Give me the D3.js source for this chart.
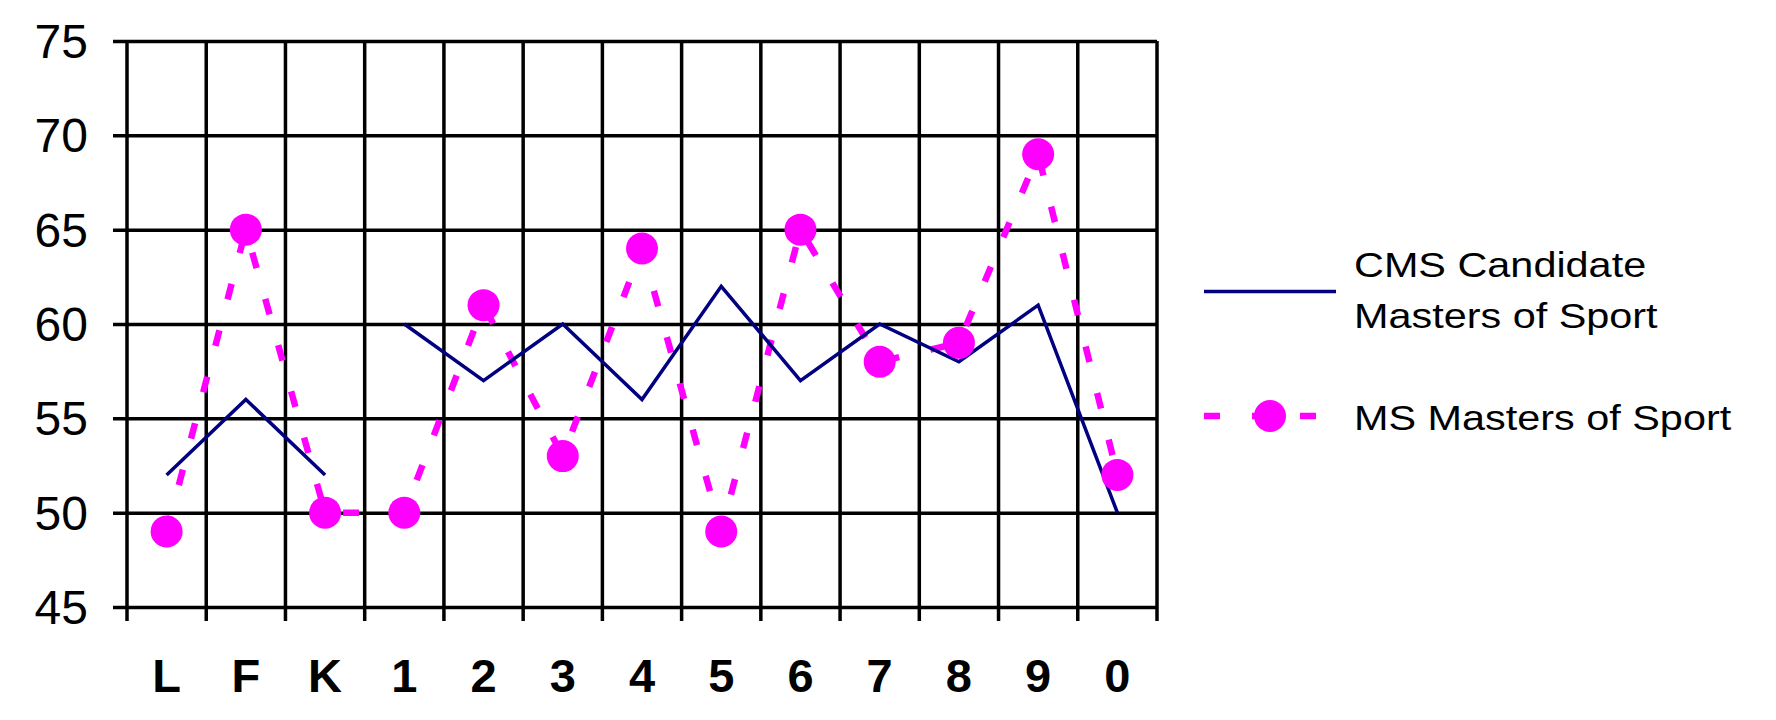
<!DOCTYPE html>
<html>
<head>
<meta charset="utf-8">
<script src="https://cdn.jsdelivr.net/npm/d3@7"></script>
<style>
  body { margin: 0; background: #fff; }
  text { font-family: "Liberation Sans", Arial, sans-serif; }
</style>
</head>
<body>
<script>
// categories along the bottom
const categories = ["L", "F", "K", "1", "2", "3", "4", "5", "6", "7", "8", "9", "0"];
// CMS Candidate Masters of Sport (line breaks after K)
const cms = [52, 56, 52, 60, 57, 60, 56, 62, 57, 60, 58, 61, 50];
const cmsBreakAfter = "K";
// MS Masters of Sport
const ms = [49, 65, 50, 50, 61, 53, 64, 49, 65, 58, 59, 69, 52];
const yTicks = [45, 50, 55, 60, 65, 70, 75];
const legendLabels = [["CMS Candidate", "Masters of Sport"], ["MS Masters of Sport"]];

const width = 1776, height = 720;
const plot = {left: 127, right: 1157, top: 41, bottom: 607};
const navy = "#000080", magenta = "#ff00ff";

const svg = d3.select("body").append("svg")
  .attr("width", width).attr("height", height);

const x = d3.scaleBand().domain(categories).range([plot.left, plot.right]).padding(0);
const y = d3.scaleLinear().domain([45, 75]).range([plot.bottom, plot.top]);

// horizontal grid + left ticks
svg.append("g")
  .attr("transform", "translate(" + plot.left + ",0)")
  .call(d3.axisLeft(y).tickValues(yTicks).tickSizeInner(-(plot.right - plot.left)).tickFormat(""))
  .call(g => g.select(".domain").remove())
  .call(g => g.selectAll(".tick line").attr("x1", -14).attr("stroke", "#000").attr("stroke-width", 3.5));

// vertical grid at band edges, with ticks below
let edges = categories.map(c => x(c)).concat([x.range()[1]]);
svg.append("g").selectAll("line").data(edges).enter().append("line")
  .attr("x1", d => d).attr("x2", d => d)
  .attr("y1", plot.top).attr("y2", plot.bottom + 14)
  .attr("stroke", "#000").attr("stroke-width", 3.5);

// y labels
svg.append("g").selectAll("text").data(yTicks).enter().append("text")
  .attr("x", 88).attr("y", d => y(d) + 17)
  .attr("text-anchor", "end")
  .style("font-size", "48px")
  .text(d => d);

// x labels
svg.append("g").selectAll("text").data(categories).enter().append("text")
  .attr("x", d => x(d) + x.bandwidth() / 2).attr("y", 692)
  .attr("text-anchor", "middle")
  .style("font-size", "47px").style("font-weight", "bold")
  .text(d => d);

let cx = (d, i) => x(categories[i]) + x.bandwidth() / 2;

// MS dashed line
let lineMs = d3.line().x(cx).y(d => y(d));
svg.append("path")
  .attr("d", lineMs(ms))
  .attr("fill", "none").attr("stroke", magenta)
  .attr("stroke-width", 6.5).attr("stroke-dasharray", "16,32");

// CMS line, split into segments
let brk = categories.indexOf(cmsBreakAfter);
let lineCms = d3.line().x(d => cx(null, d.i)).y(d => y(d.v));
let cmsPts = cms.map((v, i) => ({v, i}));
[cmsPts.slice(0, brk + 1), cmsPts.slice(brk + 1)].forEach(seg => {
  svg.append("path")
    .attr("d", lineCms(seg))
    .attr("fill", "none").attr("stroke", navy)
    .attr("stroke-width", 3.5).attr("stroke-linejoin", "miter");
});

// MS markers
svg.append("g").selectAll("circle").data(ms).enter().append("circle")
  .attr("cx", cx).attr("cy", d => y(d)).attr("r", 16)
  .attr("fill", magenta);

// legend
const lg = svg.append("g");
lg.append("line").attr("x1", 1204).attr("x2", 1336).attr("y1", 291.5).attr("y2", 291.5)
  .attr("stroke", navy).attr("stroke-width", 3.5);
lg.append("line").attr("x1", 1204).attr("x2", 1316).attr("y1", 416).attr("y2", 416)
  .attr("stroke", magenta).attr("stroke-width", 6.5).attr("stroke-dasharray", "16,32");
lg.append("circle").attr("cx", 1270).attr("cy", 416).attr("r", 16).attr("fill", magenta);

const legendY = [[277, 328], [430]];
legendLabels.forEach((lines, k) => {
  lines.forEach((t, j) => {
    lg.append("text")
      .attr("transform", "translate(1354," + legendY[k][j] + ") scale(1.15,1)")
      .style("font-size", "36px")
      .text(t);
  });
});
</script>
</body>
</html>
